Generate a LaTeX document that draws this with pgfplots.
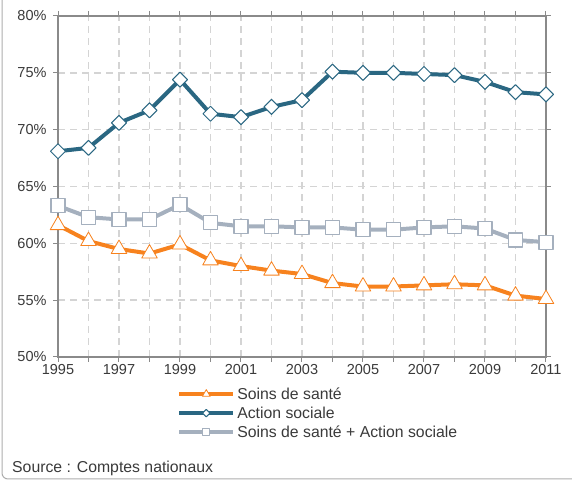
\documentclass[border=0pt]{standalone}
\usepackage{pgfplots}
\pgfplotsset{compat=1.18}
\usepackage{fontspec}
\setmainfont{Liberation Sans}
\usetikzlibrary{plotmarks}

\definecolor{soins}{HTML}{F7821E}
\definecolor{action}{HTML}{2A6782}
\definecolor{total}{HTML}{A5B0BE}
\definecolor{gridc}{HTML}{D4D4D4}
\definecolor{axisc}{HTML}{8A8A8A}
\definecolor{txt}{HTML}{3A3A3A}

\pgfplotstableread{
year soins action total
1995 61.6 68.1 63.3
1996 60.2 68.4 62.3
1997 59.5 70.6 62.1
1998 59.1 71.7 62.1
1999 59.9 74.4 63.4
2000 58.5 71.4 61.8
2001 58.0 71.1 61.5
2002 57.6 72.0 61.5
2003 57.3 72.6 61.4
2004 56.5 75.1 61.4
2005 56.2 75.0 61.2
2006 56.2 75.0 61.2
2007 56.3 74.9 61.4
2008 56.4 74.8 61.5
2009 56.3 74.2 61.3
2010 55.4 73.3 60.3
2011 55.1 73.1 60.1
}\datatable

\begin{document}
\begin{tikzpicture}[x=1pt,y=1pt]
\useasboundingbox (0,0) rectangle (572,481);
\draw[axisc!70, line width=1pt, rounded corners=6pt] (2,490) -- (2,2) -- (580,2);
\begin{axis}[
    at={(58pt,124pt)}, anchor=south west,
    scale only axis,
    width=488pt, height=341pt,
    xmin=1995, xmax=2011,
    ymin=50, ymax=80,
    xtick={1995,...,2011},
    xticklabels={1995,,1997,,1999,,2001,,2003,,2005,,2007,,2009,,2011},
    ytick={50,55,...,80},
    yticklabel={\pgfmathprintnumber{\tick}\%},
    /pgf/number format/assume math mode=true,
    /pgf/number format/1000 sep={},
    ticklabel style={font=\fontsize{14.5}{16}\selectfont, text=txt},
    tick align=outside,
    major tick length=5pt,
    tick style={axisc, line width=1pt},
    axis line style={axisc, line width=2.2pt},
    grid=major,
    major grid style={gridc, line width=1.4pt, dash pattern=on 7pt off 5pt},
    xticklabel style={yshift=1pt},
    yticklabel style={xshift=-3pt},
    every axis plot/.append style={line join=round},
    legend style={at={(axis description cs:0.244,-0.083)}, anchor=north west, draw=none, fill=none,
        font=\fontsize{15.8}{17}\selectfont, text=txt, row sep=2pt,
        cells={anchor=west}, inner sep=0pt},
    legend cell align=left,
    legend image code/.code={
        \draw[#1, mark=none] (0pt,0pt) -- (54pt,0pt);
        \draw[#1, draw=none, every mark/.append style={scale=0.5}] plot coordinates {(27pt,0pt)};
    },
]
\addplot[soins, line width=4pt, mark=triangle*, mark size=9pt,
    mark options={fill=white, draw=soins, line width=0.8pt, solid}]
    table[x=year, y=soins] {\datatable};
\addlegendentry{Soins de santé}
\addplot[action, line width=4pt, mark=square*, mark size=5.3pt,
    mark options={fill=white, draw=action, line width=1pt, rotate=45}]
    table[x=year, y=action] {\datatable};
\addlegendentry{Action sociale}
\addplot[total, line width=4pt, mark=square*, mark size=7pt,
    mark options={fill=white, draw=total, line width=1.2pt}]
    table[x=year, y=total] {\datatable};
\addlegendentry{Soins de santé + Action sociale}
\end{axis}
\node[anchor=west, font=\fontsize{15.8}{17}\selectfont, text=txt, inner sep=0pt] at (12,13) {Source : Comptes nationaux};
\end{tikzpicture}
\end{document}
